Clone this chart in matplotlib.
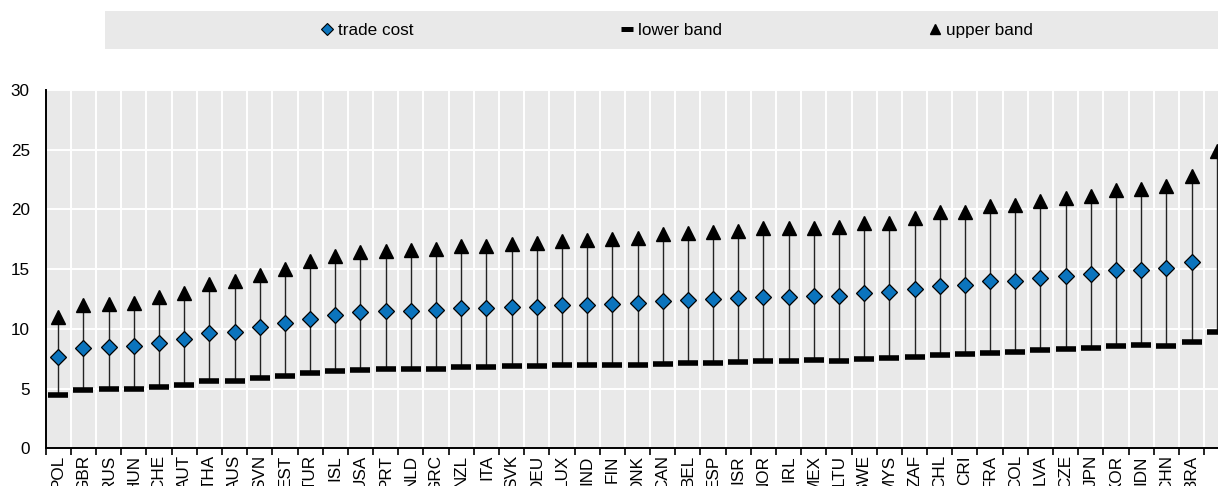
import numpy as np
import matplotlib
matplotlib.use("Agg")
import matplotlib.pyplot as plt
from matplotlib.lines import Line2D
from matplotlib.ticker import FixedLocator

plt.rcParams['font.family'] = ['Liberation Sans', 'DejaVu Sans']

countries = ["POL", "GBR", "RUS", "HUN", "CHE", "AUT", "THA", "AUS", "SVN", "EST",
             "TUR", "ISL", "USA", "PRT", "NLD", "GRC", "NZL", "ITA", "SVK", "DEU",
             "LUX", "IND", "FIN", "DNK", "CAN", "BEL", "ESP", "ISR", "NOR", "IRL",
             "MEX", "LTU", "SWE", "MYS", "ZAF", "CHL", "CRI", "FRA", "COL", "LVA",
             "CZE", "JPN", "KOR", "IDN", "CHN", "BRA", ""]

trade_cost = [7.67, 8.40, 8.48, 8.57, 8.82, 9.13, 9.63, 9.74, 10.13, 10.47,
              10.86, 11.19, 11.39, 11.47, 11.53, 11.55, 11.72, 11.72, 11.86, 11.86,
              12.03, 12.03, 12.08, 12.17, 12.36, 12.42, 12.50, 12.56, 12.70, 12.70,
              12.75, 12.78, 13.03, 13.06, 13.31, 13.62, 13.68, 13.98, 14.04, 14.29,
              14.43, 14.57, 14.90, 14.93, 15.07, 15.60, np.nan]

lower_band = [4.49, 4.86, 5.00, 4.97, 5.16, 5.27, 5.67, 5.61, 5.89, 6.08,
              6.28, 6.47, 6.59, 6.67, 6.64, 6.67, 6.78, 6.81, 6.87, 6.87,
              6.98, 6.98, 6.95, 6.98, 7.09, 7.12, 7.17, 7.26, 7.28, 7.34,
              7.40, 7.34, 7.45, 7.54, 7.65, 7.81, 7.90, 8.01, 8.07, 8.23,
              8.34, 8.43, 8.54, 8.62, 8.60, 8.93, 9.77]

upper_band = [11.00, 12.00, 12.06, 12.17, 12.70, 13.03, 13.79, 14.00, 14.54, 15.04,
              15.66, 16.10, 16.44, 16.52, 16.62, 16.66, 16.91, 16.97, 17.11, 17.19,
              17.39, 17.44, 17.50, 17.58, 17.95, 18.03, 18.14, 18.17, 18.48, 18.42,
              18.45, 18.56, 18.89, 18.89, 19.26, 19.79, 19.79, 20.26, 20.40, 20.74,
              20.96, 21.15, 21.63, 21.71, 21.99, 22.77, 24.92]

y_ticks = [0, 5, 10, 15, 20, 25, 30]

BG = "#e9e9e9"
BLUE = "#0b74bd"
FS = 12.3

W, H = 1218, 486
fig = plt.figure(figsize=(W / 100, H / 100), dpi=100)

# main plotting area (extends slightly past the right edge of the canvas)
ax = fig.add_axes([45.7 / W, (H - 448.3) / H, (1229.3 - 45.7) / W, (448.3 - 90) / H])
ax.set_facecolor(BG)

x = np.arange(len(countries))
ax.vlines(x, lower_band, upper_band, color="#222222", lw=1.0, zorder=3)
ax.plot(x, lower_band, linestyle="none", marker="_", markersize=14,
        markeredgewidth=4.0, color="black", zorder=4)
ax.plot(x, upper_band, linestyle="none", marker="^", markersize=10.5,
        color="black", zorder=4)
ax.plot(x, trade_cost, linestyle="none", marker="D", markersize=8.2,
        markerfacecolor=BLUE, markeredgecolor="black", markeredgewidth=0.9,
        zorder=5)

ax.set_xlim(-0.5, len(countries) - 0.5)
ax.set_ylim(0, 30)

ax.set_xticks(x)
ax.set_xticklabels(countries, rotation=90, fontsize=FS)
ax.xaxis.set_minor_locator(FixedLocator(np.arange(len(countries) + 1) - 0.5))
ax.tick_params(axis="x", which="major", length=0, pad=5)
ax.tick_params(axis="x", which="minor", length=5, width=1.2, color="black",
               direction="out")
for lbl in ax.get_xticklabels():
    lbl.set_verticalalignment("top")

ax.set_yticks(y_ticks)
ax.tick_params(axis="y", which="major", length=0, pad=11.5, labelsize=FS)

ax.grid(True, which="minor", axis="x", color="white", lw=1.4)
ax.grid(True, which="major", axis="y", color="white", lw=1.4)
ax.grid(False, which="major", axis="x")
ax.set_axisbelow(True)

for side in ("top", "right"):
    ax.spines[side].set_visible(False)
for side in ("left", "bottom"):
    ax.spines[side].set_color("black")
    ax.spines[side].set_linewidth(1.4)

# legend band across the top
lax = fig.add_axes([105 / W, (H - 49) / H, (W - 105) / W + 0.02, 38 / H])
lax.set_facecolor(BG)
lax.set_xticks([])
lax.set_yticks([])
for s in lax.spines.values():
    s.set_visible(False)

handles = [
    Line2D([], [], linestyle="none", marker="D", markersize=6,
           markerfacecolor=BLUE, markeredgecolor="black", markeredgewidth=0.8),
    Line2D([], [], linestyle="none", marker="_", markersize=8,
           markeredgewidth=3.6, color="black"),
    Line2D([], [], linestyle="none", marker="^", markersize=7.5, color="black"),
]
labels = ["trade cost", "lower band", "upper band"]
fig.legend(handles, labels, loc="center", ncol=3,
           bbox_to_anchor=(677 / W, 1 - 30 / H), frameon=False,
           fontsize=FS, handlelength=0.7, handletextpad=0.3,
           columnspacing=12.13)

fig.savefig("out.png", dpi=100)
